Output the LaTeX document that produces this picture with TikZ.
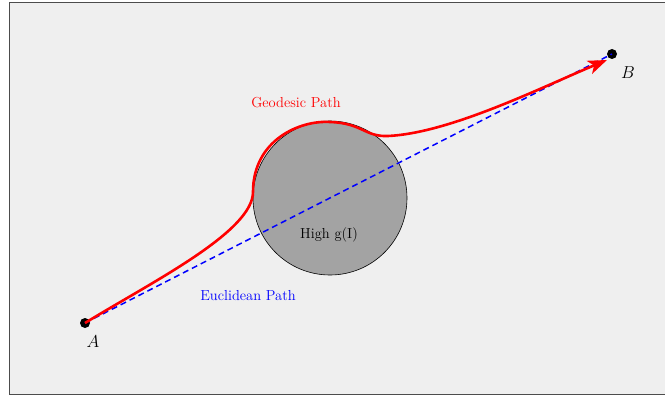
\documentclass[tikz,border=0pt]{standalone}
\usetikzlibrary{arrows.meta}
\definecolor{bgc}{HTML}{EFEFEF}
\definecolor{obst}{HTML}{A3A3A3}
\tikzset{
  pt/.style={circle,fill=black,inner sep=0pt,minimum size=10pt},
  lbl/.style={font=\fontsize{14.5}{17}\selectfont},
  ptlbl/.style={font=\fontsize{16}{18}\selectfont},
  euclid/.style={blue,line width=1.5pt,dash pattern=on 6pt off 4pt},
  geo/.style={red,line width=2.6pt,-{Stealth[length=19pt,width=14pt,inset=5pt]}},
}
\begin{document}
\begin{tikzpicture}[x=1pt,y=-1pt]
\useasboundingbox (0,0) rectangle (665,396);
\draw[fill=bgc,draw=black!70,line width=1.3pt] (9.5,2.5) rectangle (670,394.5);
\node[circle,draw=black,line width=0.6pt,fill=obst,minimum size=154pt,inner sep=0pt] (obs) at (330,198) {};
\node[lbl] (hg) at (329,235) {High g(I)};
\node[pt] (A) at (85,323) {};
\node[pt] (B) at (612,54) {};
\node[ptlbl] (la) at (93,342) {$A$};
\node[ptlbl] (lb) at (628,73) {$B$};
\draw[euclid] (A.center) -- (B.center);
\coordinate (g1) at (253,192);
\coordinate (g2) at (330,122);
\coordinate (g3) at (388,136);
\coordinate (gend) at (607,60);
\draw[geo] (A.center) .. controls (150,283) and (253,232) .. (g1)
  .. controls (253,140) and (300,120) .. (g2)
  .. controls (362,123) and (365,137) .. (g3)
  .. controls (450,133) and (540,88) .. (gend);
\node[lbl,text=red] (gl) at (296,103) {Geodesic Path};
\node[lbl,text=blue] (el) at (248,296) {Euclidean Path};
\end{tikzpicture}
\end{document}
